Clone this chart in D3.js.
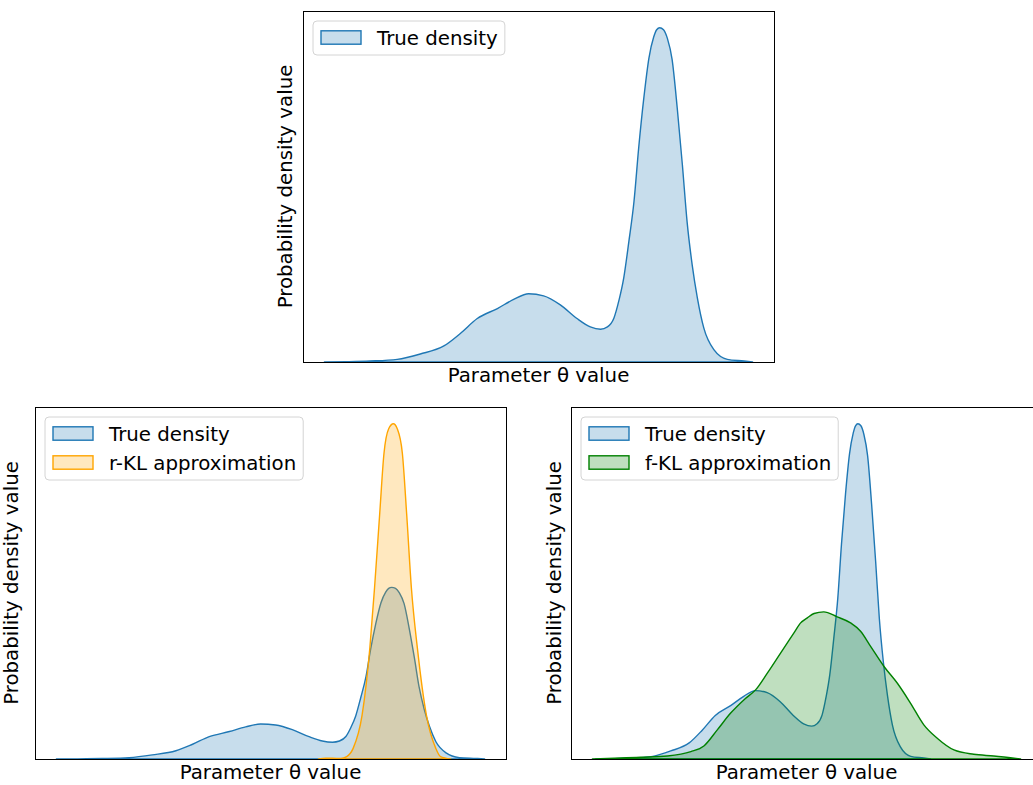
<!DOCTYPE html>
<html>
<head>
<meta charset="utf-8">
<script src="https://cdn.jsdelivr.net/npm/d3@7"></script>
<style>
  body { margin: 0; background: #fff; }
  text { font-family: "DejaVu Sans", sans-serif; }
</style>
</head>
<body>
<div id="chart"></div>
<script>
// density values (theta in arbitrary units)
var trueTheta = [0, 0.5, 1.07, 1.70, 2.24, 2.79, 3.18, 3.57, 4.04, 4.42, 4.77, 5.12, 5.51, 5.90, 6.21, 6.45,
  6.61, 6.76, 6.88, 6.99, 7.11, 7.23, 7.34, 7.46, 7.58, 7.69, 7.76, 7.83, 7.92, 8.01, 8.12, 8.24, 8.36, 8.47,
  8.59, 8.71, 8.86, 9.10, 9.41, 9.80, 10];
var trueDensity = [0, 0.001, 0.003, 0.008, 0.024, 0.048, 0.086, 0.130, 0.160, 0.187, 0.204, 0.198, 0.171, 0.130, 0.105, 0.098,
  0.105, 0.131, 0.185, 0.251, 0.360, 0.480, 0.641, 0.790, 0.910, 0.972, 0.994, 1.0, 0.994, 0.968, 0.905, 0.760, 0.590, 0.420,
  0.290, 0.192, 0.102, 0.036, 0.008, 0.003, 0];

var rklTheta = [6.12, 6.29, 6.45, 6.64, 6.78, 6.93, 7.14, 7.32, 7.43, 7.55, 7.65, 7.76, 7.87, 7.96, 8.08,
  8.18, 8.29, 8.43, 8.64, 8.86, 8.97, 9.21];
var rklDensity = [0, 0.004, 0.004, 0.003, 0.014, 0.062, 0.257, 0.647, 0.998, 1.427, 1.78, 1.924, 1.953, 1.924, 1.78,
  1.427, 0.998, 0.647, 0.257, 0.062, 0.014, 0];

var fklTheta = [-0.10, 1.34, 2.14, 2.84, 3.23, 3.63, 4.03, 4.43, 4.78, 5.13, 5.52, 5.92, 6.12, 6.32, 6.52,
  6.81, 7.21, 7.61, 7.91, 8.21, 8.61, 9.01, 9.40, 9.80, 10.20, 10.70, 11.29, 11.89, 12.69];
var fklDensity = [0, 0.005, 0.009, 0.022, 0.039, 0.087, 0.137, 0.177, 0.207, 0.257, 0.316, 0.376, 0.406, 0.421, 0.434,
  0.439, 0.424, 0.406, 0.381, 0.336, 0.276, 0.226, 0.167, 0.102, 0.062, 0.027, 0.014, 0.009, 0];

var seriesNames = ['True density', 'r-KL approximation', 'f-KL approximation'];
var xLabel = 'Parameter \u03b8 value';
var yLabel = 'Probability density value';

var W = 1033, H = 785;
var FONT = 19.8;

function pairs(xs, ys) {
  return xs.map(function (t, i) { return { t: t, v: ys[i] }; });
}

var trueSeries = { name: seriesNames[0], color: '#1f77b4', data: pairs(trueTheta, trueDensity) };
var rklSeries = { name: seriesNames[1], color: '#ffa500', data: pairs(rklTheta, rklDensity) };
var fklSeries = { name: seriesNames[2], color: '#008000', data: pairs(fklTheta, fklDensity) };

var panels = [
  { left: 303, top: 11, width: 471, height: 351, ylabelX: 292, series: [trueSeries] },
  { left: 35, top: 407, width: 471, height: 352, ylabelX: 17.5, series: [trueSeries, rklSeries] },
  { left: 571, top: 407, width: 471, height: 352, ylabelX: 560.5, series: [trueSeries, fklSeries] }
];

var svg = d3.select('#chart').append('svg')
  .attr('width', W).attr('height', H);

function drawPanel(p) {
  var all = [];
  p.series.forEach(function (s) { all = all.concat(s.data); });
  var xExt = d3.extent(all, function (d) { return d.t; });
  var pad = (xExt[1] - xExt[0]) * 0.05;
  var yMax = d3.max(all, function (d) { return d.v; });

  var x = d3.scaleLinear().domain([xExt[0] - pad, xExt[1] + pad]).range([p.left, p.left + p.width]);
  var y = d3.scaleLinear().domain([0, yMax * 1.05]).range([p.top + p.height, p.top]);

  var g = svg.append('g');

  var area = d3.area()
    .x(function (d) { return x(d.t); })
    .y0(y(0))
    .y1(function (d) { return y(d.v); })
    .curve(d3.curveMonotoneX);

  p.series.forEach(function (s) {
    g.append('path')
      .datum(s.data)
      .attr('d', area)
      .attr('fill', s.color)
      .attr('fill-opacity', 0.25)
      .attr('stroke', s.color)
      .attr('stroke-width', 1.4)
      .attr('stroke-linejoin', 'round');
  });

  // frame
  g.append('rect')
    .attr('x', p.left + 0.5).attr('y', p.top + 0.5)
    .attr('width', p.width).attr('height', p.height)
    .attr('fill', 'none').attr('stroke', '#000').attr('stroke-width', 1);

  // axis labels (no ticks)
  g.append('text')
    .attr('x', p.left + p.width / 2)
    .attr('y', p.top + p.height + 19.5)
    .attr('text-anchor', 'middle')
    .attr('font-size', FONT)
    .text(xLabel);

  g.append('text')
    .attr('transform', 'translate(' + p.ylabelX + ',' + (p.top + p.height / 2) + ') rotate(-90)')
    .attr('text-anchor', 'middle')
    .attr('font-size', FONT)
    .text(yLabel);

  drawLegend(g, p);
}

function drawLegend(g, p) {
  var bx = p.left + 10, by = p.top + 10;
  var rowH = 29;
  var lg = g.append('g');
  var box = lg.append('rect')
    .attr('x', bx).attr('y', by)
    .attr('rx', 4).attr('ry', 4)
    .attr('fill', '#fff').attr('fill-opacity', 0.8)
    .attr('stroke', '#d4d4d4').attr('stroke-width', 1);

  var maxW = 0;
  p.series.forEach(function (s, i) {
    var cy = by + 16.5 + i * rowH;
    lg.append('rect')
      .attr('x', bx + 8).attr('y', cy - 6.7)
      .attr('width', 40).attr('height', 13.4)
      .attr('fill', s.color).attr('fill-opacity', 0.25)
      .attr('stroke', s.color).attr('stroke-width', 1.4);
    var t = lg.append('text')
      .attr('x', bx + 64).attr('y', cy + 7)
      .attr('font-size', FONT)
      .text(s.name);
    maxW = Math.max(maxW, t.node().getComputedTextLength());
  });

  box.attr('width', 64 + maxW + 7)
    .attr('height', 34 + (p.series.length - 1) * rowH);
}

panels.forEach(drawPanel);
</script>
</body>
</html>
